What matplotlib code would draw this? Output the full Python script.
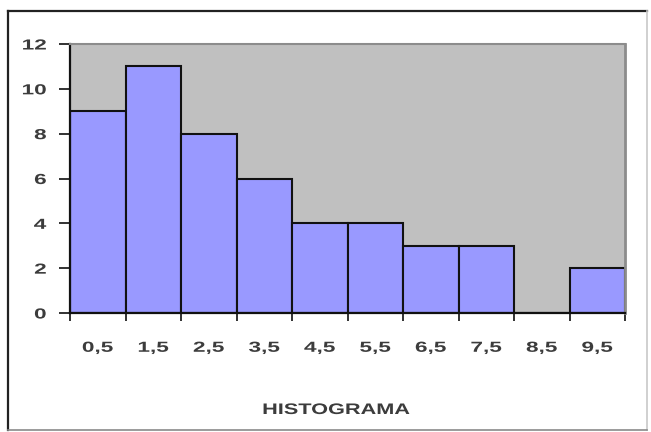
import numpy as np
import matplotlib.pyplot as plt
from matplotlib.lines import Line2D
from matplotlib.patheffects import AbstractPathEffect
from matplotlib.transforms import Affine2D

clases = ["0,5", "1,5", "2,5", "3,5", "4,5", "5,5", "6,5", "7,5", "8,5", "9,5"]
frecuencias = [9, 11, 8, 6, 4, 4, 3, 3, 0, 2]


class Ensanchar(AbstractPathEffect):
    """Estira el texto en horizontal (fuente expandida)."""

    def __init__(self, sx, ancla='center'):
        super().__init__()
        self.sx = sx
        self.ancla = ancla

    def draw_path(self, renderer, gc, tpath, affine, rgbFace=None):
        ext = tpath.get_extents()
        x0 = ext.x1 if self.ancla == 'right' else (ext.x0 + ext.x1) / 2
        t = Affine2D().translate(-x0, 0).scale(self.sx, 1).translate(x0, 0)
        renderer.draw_path(gc, tpath, t + affine, rgbFace)


plt.rcParams['font.family'] = ['Liberation Sans', 'DejaVu Sans']
color_texto = '#3c3c3c'

fig = plt.figure(figsize=(6.51, 4.32), dpi=100)
ax = fig.add_axes([70/651, 1 - 313/432, 555/651, 269/432])
ax.set_facecolor('#c0c0c0')

x = np.arange(len(clases))
ax.bar(x, frecuencias, width=1.0, color='#9999ff', edgecolor='#111111', linewidth=1.5)

ax.set_xlim(-0.5, len(clases) - 0.5)
ax.set_ylim(0, 12)
ax.set_yticks(range(0, 13, 2))

# ticks en los bordes de las clases, etiquetas centradas
ax.set_xticks(np.arange(-0.5, len(clases) + 0.5, 1))
ax.set_xticklabels([])
ax.set_xticks(x, minor=True)
ax.set_xticklabels(clases, minor=True)
ax.tick_params(axis='x', which='major', length=6, width=1.3, color='#222222', direction='out')
ax.tick_params(axis='x', which='minor', length=0, pad=20, labelsize=10.5, labelcolor=color_texto)
ax.tick_params(axis='y', length=8, width=1.3, color='#222222', pad=9, labelsize=10.5, labelcolor=color_texto)

for t in ax.get_xticklabels(minor=True):
    t.set_fontweight('bold')
    t.set_path_effects([Ensanchar(1.55)])
for t in ax.get_yticklabels():
    t.set_fontweight('bold')
    t.set_path_effects([Ensanchar(1.55, ancla='right')])

ax.spines['left'].set_color('#111111')
ax.spines['left'].set_linewidth(1.6)
ax.spines['bottom'].set_color('#111111')
ax.spines['bottom'].set_linewidth(1.6)
ax.spines['top'].set_color('#8c8c8c')
ax.spines['top'].set_linewidth(1.5)
ax.spines['right'].set_color('#8c8c8c')
ax.spines['right'].set_linewidth(2)

titulo = fig.text(336/651, 1 - 410/432, "HISTOGRAMA", ha='center', va='center',
                  fontsize=11, fontweight='bold', color=color_texto)
titulo.set_path_effects([Ensanchar(1.42)])

# marco exterior del grafico
x0, x1 = 8/651, 647/651
y0, y1 = 2/432, 1 - 11/432
fig.add_artist(Line2D([x0, x1], [y1, y1], transform=fig.transFigure, color='#222222', lw=1.6))
fig.add_artist(Line2D([x0, x0], [y0, y1], transform=fig.transFigure, color='#222222', lw=1.6))
fig.add_artist(Line2D([x1, x1], [y0, y1], transform=fig.transFigure, color='#c8c8c8', lw=1.2))
fig.add_artist(Line2D([x0, x1], [y0, y0], transform=fig.transFigure, color='#8a8a8a', lw=1.2))

fig.savefig('out.png', dpi=100)
